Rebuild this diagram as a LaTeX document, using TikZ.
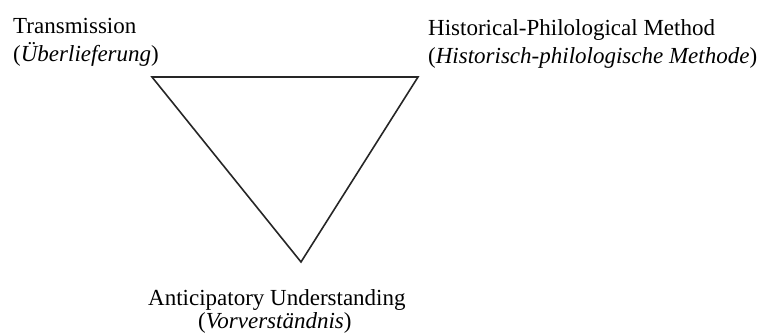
\documentclass[tikz,border=0pt]{standalone}
\usepackage{fontspec}
\setmainfont{Liberation Serif}
\begin{document}
\begin{tikzpicture}[x=1pt,y=-1pt,
  lbl/.style={anchor=base west,inner sep=0pt,font=\fontsize{23}{28}\selectfont},
  edge/.style={line width=1.6pt,line join=miter,black!85}]
\useasboundingbox (0,0) rectangle (760,335);
\coordinate (tl) at (152,77);
\coordinate (tr) at (418,77);
\coordinate (bt) at (301,262);
\draw[edge] (tl) -- (tr) -- (bt) -- cycle;
\node[lbl] (t1) at (13,33) {Transmission};
\node[lbl] (t2) at (13,61) {(\textit{Überlieferung})};
\node[lbl] (h1) at (428,35) {Historical-Philological Method};
\node[lbl] (h2) at (428,63) {(\textit{Historisch-philologische Methode})};
\node[lbl] (a1) at (148,305) {Anticipatory Understanding};
\node[lbl] (a2) at (198,328) {(\textit{Vorverständnis})};
\end{tikzpicture}
\end{document}
